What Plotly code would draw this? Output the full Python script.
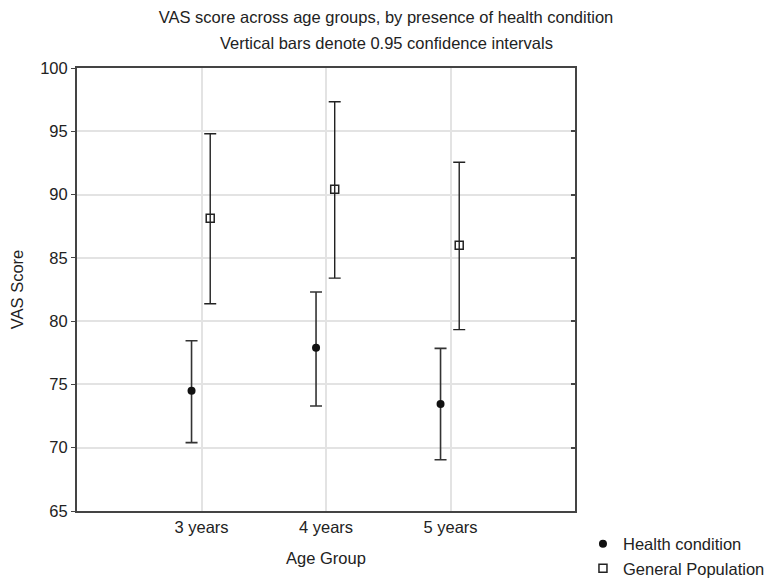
import plotly.graph_objects as go

categories = ["3 years", "4 years", "5 years"]
cat_pos = [1, 2, 3]

health_mean = [74.5, 77.9, 73.45]
health_upper = [78.45, 82.3, 77.85]
health_lower = [70.4, 73.3, 69.05]

gen_mean = [88.12, 90.43, 86.0]
gen_upper = [94.8, 97.33, 92.55]
gen_lower = [81.37, 83.4, 79.33]

title_line1 = "VAS score across age groups, by presence of health condition"
title_line2 = "Vertical bars denote 0.95 confidence intervals"

health_offset = -0.08
gen_offset = 0.07

fig = go.Figure()

fig.add_trace(go.Scatter(
    x=[p + health_offset for p in cat_pos], y=health_mean,
    mode="markers", name="Health condition",
    marker=dict(symbol="circle", size=8, color="#111111"),
    error_y=dict(type="data", symmetric=False,
                 array=[u - m for u, m in zip(health_upper, health_mean)],
                 arrayminus=[m - l for m, l in zip(health_mean, health_lower)],
                 color="#333333", thickness=1.6, width=6),
))
fig.add_trace(go.Scatter(
    x=[p + gen_offset for p in cat_pos], y=gen_mean,
    mode="markers", name="General Population",
    marker=dict(symbol="square-open", size=8, color="#222222", line=dict(width=1.5)),
    error_y=dict(type="data", symmetric=False,
                 array=[u - m for u, m in zip(gen_upper, gen_mean)],
                 arrayminus=[m - l for m, l in zip(gen_mean, gen_lower)],
                 color="#222222", thickness=1.4, width=6),
))
# empty helper trace so the mirrored right-hand axis (inward ticks) is drawn
fig.add_trace(go.Scatter(x=[], y=[], yaxis="y2", showlegend=False,
                         hoverinfo="skip", mode="markers"))

font_family = "Liberation Sans, Arial, sans-serif"
fs = 16.5

fig.update_layout(
    width=772, height=578,
    margin=dict(l=77, r=197, t=68, b=67, autoexpand=False),
    paper_bgcolor="white", plot_bgcolor="white",
    font=dict(family=font_family, size=fs, color="#222222"),
    title=dict(
        text=title_line1,
        x=0.5, xref="container", xanchor="center",
        y=1 - 17 / 578, yref="container", yanchor="middle",
        font=dict(size=fs, family=font_family, color="#222222"),
    ),
    annotations=[dict(
        text=title_line2, showarrow=False,
        xref="paper", x=(386 - 77) / 498, xanchor="center",
        yref="paper", y=(511 - 43) / 443, yanchor="middle",
        font=dict(size=fs, family=font_family, color="#222222"),
    )],
    showlegend=True,
    legend=dict(x=1.016, y=-0.035, xanchor="left", yanchor="top",
                bgcolor="rgba(0,0,0,0)", font=dict(size=fs), tracegroupgap=0),
    yaxis2=dict(
        overlaying="y", side="right", range=[65, 100], dtick=5,
        ticks="inside", ticklen=4, tickcolor="#444444", tickwidth=1.5,
        showticklabels=False, showgrid=False, zeroline=False,
        showline=False, automargin=False,
    ),
)

fig.update_xaxes(
    range=[0, 4], tickvals=cat_pos, ticktext=categories,
    showgrid=True, gridcolor="#e3e3e3", gridwidth=1.5,
    showline=True, linecolor="#444444", linewidth=2, mirror=True,
    ticks="", zeroline=False, automargin=False,
    title=dict(text="Age Group", standoff=18, font=dict(size=fs)),
)
fig.update_layout(yaxis=dict(
    range=[65, 100], dtick=5,
    showgrid=True, gridcolor="#e3e3e3", gridwidth=1.5,
    showline=True, linecolor="#444444", linewidth=2, mirror=True,
    ticks="outside", ticklen=4, tickcolor="#444444",
    zeroline=False, automargin=False,
    title=dict(text="VAS Score", standoff=12, font=dict(size=fs)),
))

fig.write_html("out.html", config={"displayModeBar": False},
               post_script="document.body.style.margin='0px';")
